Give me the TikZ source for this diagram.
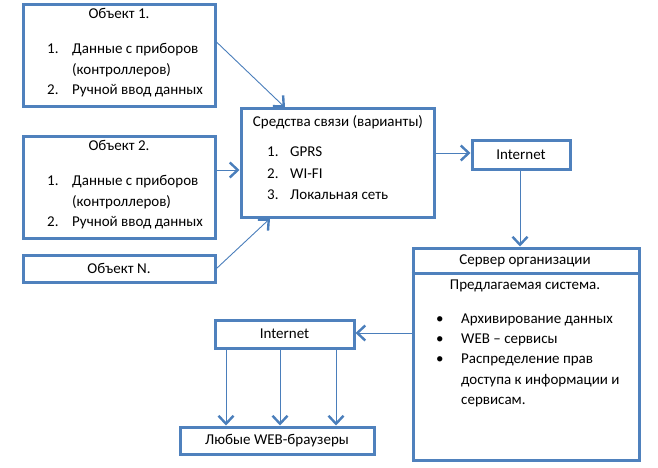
\documentclass[tikz,border=0pt]{standalone}
\usepackage{fontspec}
\setmainfont{Carlito}
\usetikzlibrary{arrows.meta,calc}
\definecolor{boxblue}{HTML}{4F81BD}
\definecolor{arrblue}{HTML}{4A7EBB}
\begin{document}
\begin{tikzpicture}[x=1pt,y=-1pt,
  font=\fontsize{15}{18}\selectfont,
  box/.style={draw=boxblue, line width=3pt, inner sep=0pt, fill=white},
  txt/.style={inner sep=0pt, anchor=base},
  itm/.style={inner sep=0pt, anchor=base west},
  arr/.style={draw=arrblue, line width=0.9pt, -{Straight Barb[length=8pt,width=15pt,line width=2.4pt]}}]
\useasboundingbox (0,0) rectangle (658,468);
% boxes
\node[box, minimum width=192pt, minimum height=102pt] (o1) at (119,56) {};
\node[box, minimum width=192pt, minimum height=102pt] (o2) at (119,187) {};
\node[box, minimum width=192pt, minimum height=27pt] (oN) at (119,268.5) {};
\node[box, minimum width=193pt, minimum height=108pt] (s) at (337.5,163) {};
\node[box, minimum width=98pt, minimum height=29pt] (i1) at (521,155) {};
\node[box, minimum width=226pt, minimum height=212pt] (srv) at (526,354) {};
\node[box, minimum width=139pt, minimum height=28pt] (i2) at (284.5,334) {};
\node[box, minimum width=194pt, minimum height=27pt] (br) at (277,440.5) {};
\coordinate (dl) at (413,273);
\coordinate (dr) at (639,273);
\draw[draw=boxblue, line width=3pt] (srv.west |- dl) -- (srv.east |- dr);
% object 1
\node[txt] (o1t) at (119,19) {Объект 1.};
\node[itm] (o1n1) at (47,54) {1.};
\node[itm] (o1a) at (72,54) {Данные с приборов};
\node[itm] (o1b) at (72,75) {(контроллеров)};
\node[itm] (o1n2) at (47,95) {2.};
\node[itm] (o1c) at (72,95) {Ручной ввод данных};
% object 2
\node[txt] (o2t) at (119,150) {Объект 2.};
\node[itm] (o2n1) at (47,185) {1.};
\node[itm] (o2a) at (72,185) {Данные с приборов};
\node[itm] (o2b) at (72,206) {(контроллеров)};
\node[itm] (o2n2) at (47,226) {2.};
\node[itm] (o2c) at (72,226) {Ручной ввод данных};
% object N
\node[txt] (oNt) at (119,273) {Объект N.};
% communication
\node[txt] (st) at (338,127) {Средства связи (варианты)};
\node[itm] (sn1) at (267,157) {1.};
\node[itm] (sa) at (290,157) {GPRS};
\node[itm] (sn2) at (267,178) {2.};
\node[itm] (sb) at (290,178) {WI-FI};
\node[itm] (sn3) at (267,199) {3.};
\node[itm] (sc) at (290,199) {Локальная сеть};
% internet 1
\node[txt] (i1t) at (521,159) {Internet};
% server
\node[txt] (srvt) at (525,264) {Сервер организации};
\node[txt] (srvp) at (525,289) {Предлагаемая система.};
\node[itm] (b1) at (436,323) {\textbullet};
\node[itm] (sv1) at (461,323) {Архивирование данных};
\node[itm] (b2) at (436,343) {\textbullet};
\node[itm] (sv2) at (461,343) {WEB – сервисы};
\node[itm] (b3) at (436,363) {\textbullet};
\node[itm] (sv3) at (461,363) {Распределение прав};
\node[itm] (sv4) at (461,384) {доступа к информации и};
\node[itm] (sv5) at (461,404) {сервисам.};
% internet 2
\node[txt] (i2t) at (284.5,338) {Internet};
% browsers
\node[txt] (brt) at (277,444) {Любые WEB-браузеры};
% connectors
\coordinate (a1s) at (0,42);
\coordinate (a1e) at (285,0);
\draw[arr] (o1.east |- a1s) -- (s.north -| a1e);
\coordinate (a2) at (0,170);
\draw[arr] (o2.east |- a2) -- (s.west |- a2);
\coordinate (a3e) at (270,0);
\draw[arr] (oN.east) -- (s.south -| a3e);
\coordinate (a4) at (0,153);
\draw[arr] (s.east |- a4) -- (i1.west |- a4);
\coordinate (a5) at (520,0);
\draw[arr] (i1.south -| a5) -- (srv.north -| a5);
\coordinate (a6) at (0,333);
\draw[arr] (srv.west |- a6) -- (i2.east |- a6);
\coordinate (x1) at (226,0);
\coordinate (x2) at (280,0);
\coordinate (x3) at (336,0);
\draw[arr] (i2.south -| x1) -- (br.north -| x1);
\draw[arr] (i2.south -| x2) -- (br.north -| x2);
\draw[arr] (i2.south -| x3) -- (br.north -| x3);
\end{tikzpicture}
\end{document}
